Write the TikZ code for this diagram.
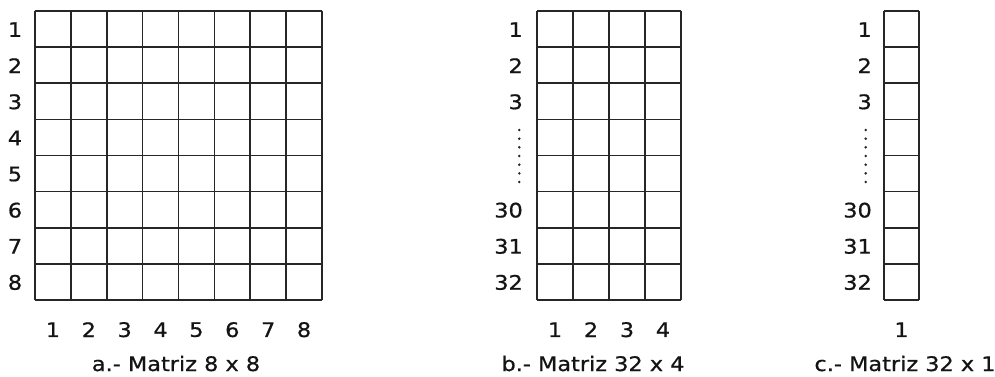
\documentclass[tikz,border=0pt]{standalone}
\usepackage{fontspec}
\setmainfont{DejaVu Sans}[FakeStretch=1.12, FakeBold=0.7]
\begin{document}
\begin{tikzpicture}[x=1pt,y=-1pt,
  lbl/.style={font=\fontsize{20}{23}\selectfont, inner sep=0pt, text=black!92},
  gridline/.style={line width=1.6pt, draw=black!85},
  dotmark/.style={fill=black!85, draw=none}]
\useasboundingbox (0,0) rectangle (995,377);
% ---- grid a: 8 x 8
\foreach \i in {0,...,8} \draw[gridline] ({35+\i*35.875},11) -- ({35+\i*35.875},300);
\foreach \j in {0,...,8} \draw[gridline] (35,{11+\j*36.125}) -- (322,{11+\j*36.125});
\foreach \r in {1,...,8} \node[lbl] (ra\r) at (15,{11+(\r-0.5)*36.125+0.5}) {\r};
\foreach \c in {1,...,8} \node[lbl] (ca\c) at ({35+(\c-0.5)*35.875},329.7) {\c};
\node[lbl, anchor=base] (capa) at (176,371) {a.- Matriz 8 x 8};
% ---- grid b: 32 x 4
\foreach \i in {0,...,4} \draw[gridline] ({537+\i*36},11) -- ({537+\i*36},300);
\foreach \j in {0,...,8} \draw[gridline] (537,{11+\j*36.125}) -- (681,{11+\j*36.125});
\foreach \r/\t in {1/1,2/2,3/3,6/30,7/31,8/32}
  \node[lbl, anchor=east] (rb\r) at (523,{11+(\r-0.5)*36.125+0.5}) {\t};
\foreach \k in {0,...,6} \fill[dotmark] (519.3,{130+\k*8.67}) circle (1.4);
\foreach \c in {1,...,4} \node[lbl] (cb\c) at ({537+(\c-0.5)*36},329.7) {\c};
\node[lbl, anchor=base] (capb) at (593,371) {b.- Matriz 32 x 4};
% ---- grid c: 32 x 1
\foreach \i in {0,1} \draw[gridline] ({884+\i*35},11) -- ({884+\i*35},300);
\foreach \j in {0,...,8} \draw[gridline] (884,{11+\j*36.125}) -- (919,{11+\j*36.125});
\foreach \r/\t in {1/1,2/2,3/3,6/30,7/31,8/32}
  \node[lbl, anchor=east] (rc\r) at (872,{11+(\r-0.5)*36.125+0.5}) {\t};
\foreach \k in {0,...,6} \fill[dotmark] (865.7,{130+\k*8.67}) circle (1.4);
\node[lbl] (cc1) at (901.5,329.7) {1};
\node[lbl, anchor=base] (capc) at (905,371) {c.- Matriz 32 x 1};
\end{tikzpicture}
\end{document}
